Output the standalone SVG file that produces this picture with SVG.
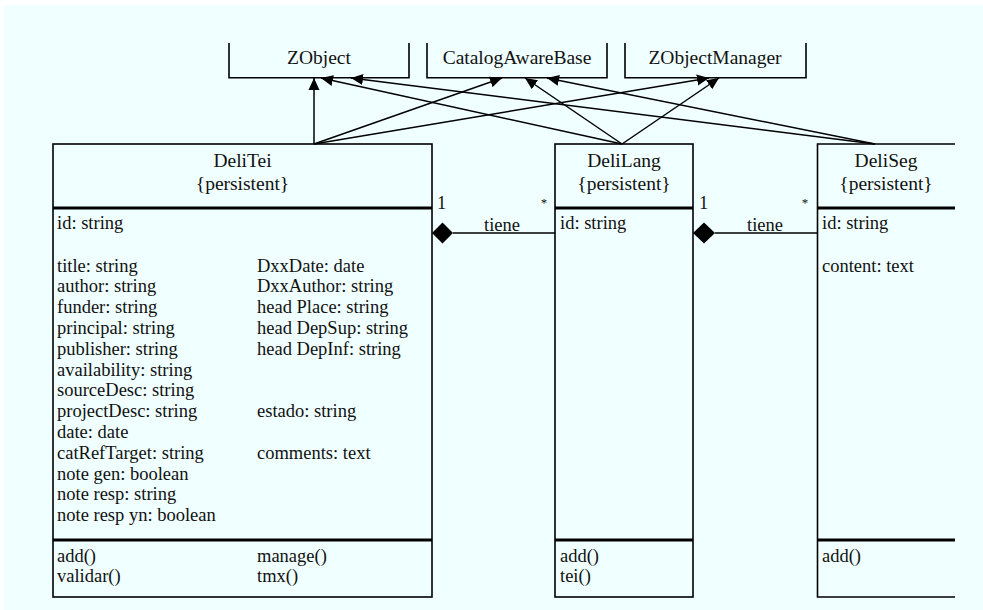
<svg xmlns="http://www.w3.org/2000/svg" width="983" height="610" viewBox="0 0 983 610">
<defs>
<style>
.bg{fill:#f0ffff}
.box{fill:none;stroke:#000;stroke-width:1.6}
.div{fill:none;stroke:#000;stroke-width:3}
.ln{fill:none;stroke:#000;stroke-width:1.5}
.t{font-family:"Liberation Serif","DejaVu Serif",serif;font-size:18.5px;fill:#111}
.h{font-family:"Liberation Serif","DejaVu Serif",serif;font-size:19.5px;fill:#111;text-anchor:middle}
.s{font-family:"Liberation Serif","DejaVu Serif",serif;font-size:13px;fill:#111;text-anchor:middle}
.dia{fill:#000}
</style>
<marker id="gen" markerUnits="userSpaceOnUse" markerWidth="12" markerHeight="12" refX="12" refY="5.5" orient="auto" viewBox="0 0 12 11">
<path d="M0,0 L12,5.5 L0,11 z" fill="#000"/>
</marker>
</defs>
<rect x="0" y="0" width="983" height="610" fill="#ffffff"/>
<rect class="bg" x="4" y="5" width="979" height="605"/>

<g id="ZObject">
<path class="box" d="M229,43 V77.7 H409 V43"/>
<text class="h" x="319" y="64">ZObject</text>
</g>
<g id="CatalogAwareBase">
<path class="box" d="M427,43 V77.7 H607 V43"/>
<text class="h" x="517" y="64">CatalogAwareBase</text>
</g>
<g id="ZObjectManager">
<path class="box" d="M625,43 V77.7 H806 V43"/>
<text class="h" x="715" y="64">ZObjectManager</text>
</g>

<g id="DeliTei">
<rect class="box" x="53" y="144" width="379" height="453"/>
<line class="div" x1="53" y1="208" x2="432" y2="208"/>
<line class="div" x1="53" y1="540" x2="432" y2="540"/>
<text class="h" x="242.5" y="167">DeliTei</text>
<text class="h" x="242.5" y="190">{persistent}</text>
<text class="t" x="57" y="229">id: string</text>
<text class="t" x="57" y="271.5">title: string</text>
<text class="t" x="57" y="292.3">author: string</text>
<text class="t" x="57" y="313.1">funder: string</text>
<text class="t" x="57" y="333.9">principal: string</text>
<text class="t" x="57" y="354.7">publisher: string</text>
<text class="t" x="57" y="375.5">availability: string</text>
<text class="t" x="57" y="396.3">sourceDesc: string</text>
<text class="t" x="57" y="417.1">projectDesc: string</text>
<text class="t" x="57" y="437.9">date: date</text>
<text class="t" x="57" y="458.7">catRefTarget: string</text>
<text class="t" x="57" y="479.5">note gen: boolean</text>
<text class="t" x="57" y="500.3">note resp: string</text>
<text class="t" x="57" y="521.1">note resp yn: boolean</text>
<text class="t" x="257" y="271.5">DxxDate: date</text>
<text class="t" x="257" y="292.3">DxxAuthor: string</text>
<text class="t" x="257" y="313.1">head Place: string</text>
<text class="t" x="257" y="333.9">head DepSup: string</text>
<text class="t" x="257" y="354.7">head DepInf: string</text>
<text class="t" x="257" y="417.1">estado: string</text>
<text class="t" x="257" y="458.7">comments: text</text>
<text class="t" x="57" y="562">add()</text>
<text class="t" x="57" y="582">validar()</text>
<text class="t" x="257" y="562">manage()</text>
<text class="t" x="257" y="582">tmx()</text>
</g>

<g id="DeliLang">
<rect class="box" x="555" y="144" width="138" height="453"/>
<line class="div" x1="555" y1="208" x2="693" y2="208"/>
<line class="div" x1="555" y1="540" x2="693" y2="540"/>
<text class="h" x="624" y="167">DeliLang</text>
<text class="h" x="624" y="190">{persistent}</text>
<text class="t" x="560" y="229">id: string</text>
<text class="t" x="560" y="562">add()</text>
<text class="t" x="560" y="582">tei()</text>
</g>

<g id="DeliSeg">
<path class="box" d="M955,144 H817.5 V597 H955"/>
<line class="div" x1="817.5" y1="208" x2="955" y2="208"/>
<line class="div" x1="817.5" y1="540" x2="955" y2="540"/>
<text class="h" x="886" y="167">DeliSeg</text>
<text class="h" x="886" y="190">{persistent}</text>
<text class="t" x="822" y="229">id: string</text>
<text class="t" x="822" y="271.5">content: text</text>
<text class="t" x="822" y="562">add()</text>
</g>

<g id="connectors">
<line class="ln" x1="314" y1="144" x2="314" y2="78" marker-end="url(#gen)"/>
<line class="ln" x1="314" y1="144" x2="502" y2="78" marker-end="url(#gen)"/>
<line class="ln" x1="314" y1="144" x2="709" y2="78" marker-end="url(#gen)"/>
<line class="ln" x1="622" y1="144" x2="321" y2="78" marker-end="url(#gen)"/>
<line class="ln" x1="622" y1="144" x2="525" y2="78" marker-end="url(#gen)"/>
<line class="ln" x1="622" y1="144" x2="719" y2="78" marker-end="url(#gen)"/>
<line class="ln" x1="875" y1="144" x2="351" y2="78" marker-end="url(#gen)"/>
<line class="ln" x1="875" y1="144" x2="547" y2="78" marker-end="url(#gen)"/>

<line class="ln" x1="453" y1="233" x2="555" y2="233"/>
<path class="dia" d="M432,233 L442.5,222.5 L453,233 L442.5,243.5 z"/>
<text class="t" x="441.5" y="209" text-anchor="middle">1</text>
<text class="t" x="502" y="230.5" text-anchor="middle">tiene</text>
<text class="s" x="544" y="207">*</text>

<line class="ln" x1="715" y1="233" x2="817.5" y2="233"/>
<path class="dia" d="M693,233 L704,222.5 L715,233 L704,243.5 z"/>
<text class="t" x="703.5" y="209" text-anchor="middle">1</text>
<text class="t" x="765" y="230.5" text-anchor="middle">tiene</text>
<text class="s" x="805" y="207">*</text>
</g>
</svg>
